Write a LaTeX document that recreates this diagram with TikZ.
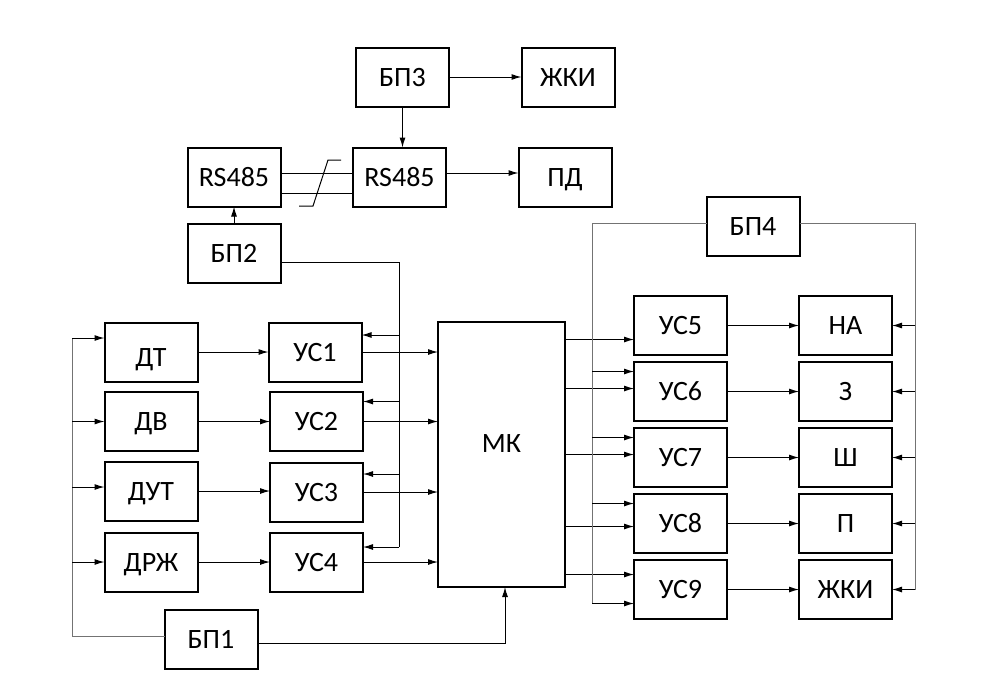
\documentclass[tikz,border=0pt]{standalone}
\usepackage{fontspec}
\setmainfont{Carlito}
\usetikzlibrary{arrows.meta,calc}
\tikzset{
  box/.style={draw, line width=2pt, minimum width=93pt, minimum height=59pt, inner sep=0pt, outer sep=0pt, font=\fontsize{28}{30}\selectfont, text height=18pt, text depth=0pt},
  conn/.style={line width=1pt},
  gconn/.style={line width=1pt, draw=black!55},
  arr/.style={line width=1pt, -{Latex[length=10pt,width=6pt]}}
}
\begin{document}
\begin{tikzpicture}[x=1pt,y=-1pt]
\useasboundingbox (0,0) rectangle (987,696);
% top group
\node[box] (bp3) at (402.5,77) {БП3};
\node[box] (lcd1) at (568,77) {ЖКИ};
\node[box] (rsR) at (399.5,177) {RS485};
\node[box] (pd) at (565,177) {ПД};
\node[box] (rsL) at (234,177) {RS485};
\node[box] (bp2) at (234,253) {БП2};
% left
\node[box] (dt) at (151,352) {\raisebox{-5pt}{ДТ}};
\node[box] (dv) at (151,421.5) {ДВ};
\node[box] (dut) at (151,491) {ДУТ};
\node[box] (drzh) at (151,562) {ДРЖ};
\node[box] (us1) at (315,352) {УС1};
\node[box] (us2) at (316.5,421.5) {УС2};
\node[box] (us3) at (316.5,492) {УС3};
\node[box] (us4) at (316.5,562) {УС4};
\node[box, minimum width=127pt, minimum height=265pt] (mk) at (501.5,454.5) {};
\node[font=\fontsize{28}{30}\selectfont, text height=18pt, text depth=0pt, inner sep=0pt] (mkt) at (501.5,443) {МК};
\node[box] (bp1) at (211,639) {БП1};
% right
\node[box] (bp4) at (753,226) {БП4};
\node[box] (us5) at (680.5,325.5) {УС5};
\node[box] (us6) at (680.5,391.5) {УС6};
\node[box] (us7) at (680.5,457.5) {УС7};
\node[box] (us8) at (680.5,523.5) {УС8};
\node[box] (us9) at (680.5,589.5) {УС9};
\node[box] (na) at (845.5,325.5) {НА};
\node[box] (z) at (845.5,391.5) {З};
\node[box] (sh) at (845.5,457.5) {Ш};
\node[box] (p) at (845.5,523.5) {П};
\node[box] (lcd2) at (845.5,589.5) {ЖКИ};

% top connectors
\draw[arr] (bp3.east) -- (lcd1.west);
\draw[arr] (bp3.south) -- (bp3.south |- rsR.north);
\draw[arr] ($(rsR.east)+(0,-4)$) -- ($(pd.west)+(0,-4)$);
\draw[conn] ($(rsL.east)+(0,-4)$) -- ($(rsR.west)+(0,-4)$);
\draw[conn] ($(rsL.east)+(0,16)$) -- ($(rsR.west)+(0,16)$);
\draw[conn] (299,206) -- (313,206) -- (328,160) -- (341,160);
\draw[arr] (bp2.north) -- (rsL.south);

% sensors to УС to МК
\foreach \a/\b in {dt/us1, dv/us2, dut/us3, drzh/us4}{
  \draw[arr] (\a.east) -- (\a.east -| \b.west);
  \draw[arr] (\b.east) -- (\b.east -| mk.west);
}

% БП2 bus
\coordinate (b2) at (399,262);
\coordinate (p1) at ($(us1.east)+(0,-17)$);
\coordinate (p2) at ($(us2.east)+(0,-20)$);
\coordinate (p3) at ($(us3.east)+(0,-18)$);
\coordinate (p4) at ($(us4.east)+(0,-15)$);
\draw[conn] ($(bp2.east)+(0,9)$) -- (b2) -- (b2 |- p4);
\foreach \q in {p1,p2,p3,p4}{ \draw[arr] (b2 |- \q) -- (\q); }

% БП1 bus
\coordinate (b1) at (72,636);
\coordinate (d1) at ($(dt.west)+(0,-14)$);
\coordinate (d3) at ($(dut.west)+(0,-4)$);
\draw[gconn] ($(bp1.west)+(0,-3)$) -- (b1) -- (b1 |- d1);
\draw[arr] (b1 |- d1) -- (d1);
\draw[arr] (b1 |- dv.west) -- (dv.west);
\draw[arr] (b1 |- d3) -- (d3);
\draw[arr] (b1 |- drzh.west) -- (drzh.west);
\coordinate (m1) at ($(bp1.east)+(0,4)$);
\coordinate (mb) at (505,587);
\draw[arr] (m1) -- (m1 -| mb) -- (mb);

% МК outputs
\coordinate (o5) at ($(us5.west)+(0,14)$);
\coordinate (o6) at ($(us6.west)+(0,-3)$);
\coordinate (o7) at ($(us7.west)+(0,-3)$);
\coordinate (o8) at ($(us8.west)+(0,3)$);
\coordinate (o9) at ($(us9.west)+(0,-15)$);
\foreach \q in {o5,o6,o7,o8,o9}{ \draw[arr] (mk.east |- \q) -- (\q); }

% БП4 left bus
\coordinate (lb) at (592,223);
\coordinate (s6) at ($(us6.west)+(0,-20)$);
\coordinate (s7) at ($(us7.west)+(0,-20)$);
\coordinate (s8) at ($(us8.west)+(0,-20)$);
\coordinate (s9) at ($(us9.west)+(0,14)$);
\draw[gconn] ($(bp4.west)+(0,-3)$) -- (lb) -- (lb |- s9);
\foreach \q in {s6,s7,s8,s9}{ \draw[arr] (lb |- \q) -- (\q); }

% УС to loads
\foreach \a/\b in {us5/na, us6/z, us7/sh, us8/p, us9/lcd2}{
  \draw[arr] (\a.east) -- (\b.west);
}

% БП4 right bus
\coordinate (rb) at (915,223);
\draw[gconn] ($(bp4.east)+(0,-3)$) -- (rb) -- (rb |- lcd2.east);
\foreach \b in {na, z, sh, p, lcd2}{ \draw[arr] (rb |- \b.east) -- (\b.east); }
\end{tikzpicture}
\end{document}
